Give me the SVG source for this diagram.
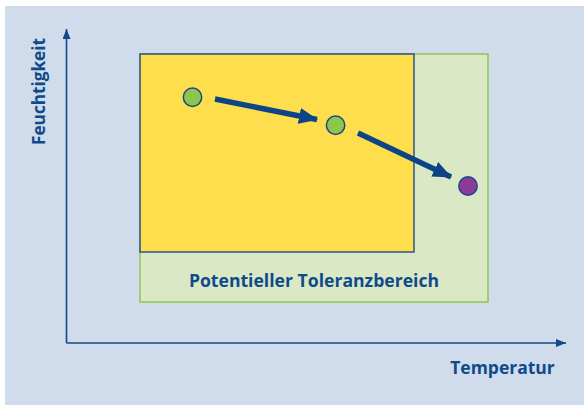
<svg xmlns="http://www.w3.org/2000/svg" width="584" height="405" viewBox="0 0 584 405">
<style>
.t{font-family:"Open Sans","Liberation Sans",sans-serif;font-weight:bold;fill:#0F4A8A;}
.ax{stroke:#13488A;stroke-width:1.6;fill:none;}
.dot{stroke:#16498A;stroke-width:1.5;}
.arr{stroke:#0B4586;stroke-width:5.5;fill:none;}
</style>
<defs>
<marker id="ah" markerWidth="10" markerHeight="8" refX="10" refY="4" orient="auto" markerUnits="userSpaceOnUse" viewBox="0 0 10 8">
<path d="M0,0 L10,4 L0,8 Z" fill="#13488A"/>
</marker>
<marker id="bh" markerWidth="19" markerHeight="16" refX="18" refY="8" orient="auto" markerUnits="userSpaceOnUse" viewBox="0 0 19 16">
<path d="M0,0 L19,8 L0,16 Z" fill="#0B4586"/>
</marker>
</defs>
<rect x="0" y="0" width="584" height="405" fill="#ffffff"/>
<rect x="5" y="6" width="579" height="399" fill="#D0DCEC"/>
<g id="zone-tolerance">
<rect x="140" y="54" width="348" height="248" fill="#DAE8C6" stroke="#95C75A" stroke-width="1.6"/>
<text class="t" x="314" y="287" font-size="17.6" text-anchor="middle">Potentieller Toleranzbereich</text>
</g>
<g id="zone-core">
<rect x="140" y="54" width="274" height="198" fill="#FFDE4E" stroke="#1B4E8C" stroke-width="1.4"/>
</g>
<g id="axes">
<path class="ax" d="M66.5,343 L66.5,29" marker-end="url(#ah)"/>
<path class="ax" d="M66.5,343 L566,343" marker-end="url(#ah)"/>
<text class="t" font-size="17.2" transform="translate(44.5,91.5) rotate(-90)" text-anchor="middle">Feuchtigkeit</text>
<text class="t" x="502.5" y="374" font-size="17.5" text-anchor="middle">Temperatur</text>
</g>
<g id="connectors">
<path class="arr" d="M215,99 L317,119.5" marker-end="url(#bh)"/>
<path class="arr" d="M358,133 L451,177" marker-end="url(#bh)"/>
</g>
<g id="p1"><circle class="dot" cx="192.5" cy="97.3" r="9.2" fill="#8DC64B"/></g>
<g id="p2"><circle class="dot" cx="335.6" cy="125.3" r="9.2" fill="#8DC64B"/></g>
<g id="p3"><circle class="dot" cx="468" cy="186" r="9.2" fill="#8B3A96"/></g>
</svg>
